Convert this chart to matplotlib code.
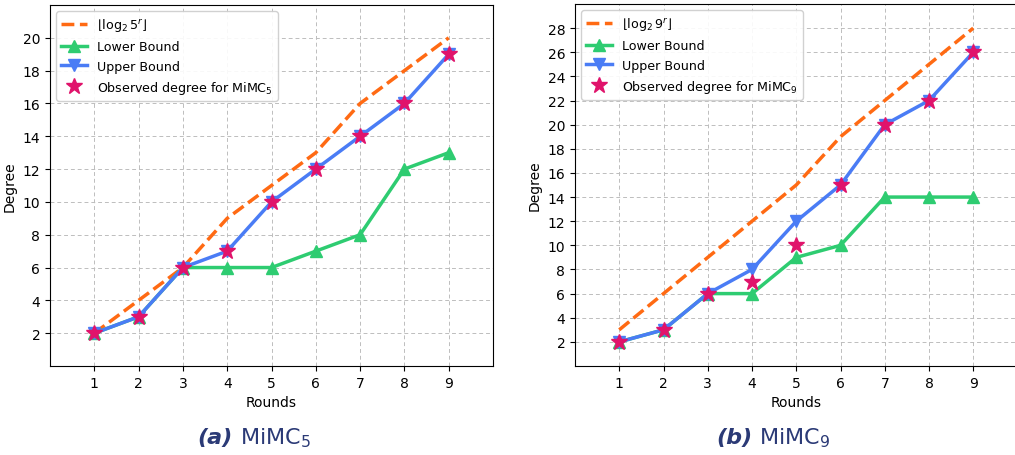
import matplotlib
matplotlib.use("Agg")
import matplotlib.pyplot as plt

rounds = [1, 2, 3, 4, 5, 6, 7, 8, 9]

# MiMC5
floor5 = [2, 4, 6, 9, 11, 13, 16, 18, 20]
lower5 = [2, 3, 6, 6, 6, 7, 8, 12, 13]
upper5 = [2, 3, 6, 7, 10, 12, 14, 16, 19]
obs5 = [2, 3, 6, 7, 10, 12, 14, 16, 19]
yticks5 = [2, 4, 6, 8, 10, 12, 14, 16, 18, 20]

# MiMC9
floor9 = [3, 6, 9, 12, 15, 19, 22, 25, 28]
lower9 = [2, 3, 6, 6, 9, 10, 14, 14, 14]
upper9 = [2, 3, 6, 8, 12, 15, 20, 22, 26]
obs9 = [2, 3, 6, 7, 10, 15, 20, 22, 26]
yticks9 = [2, 4, 6, 8, 10, 12, 14, 16, 18, 20, 22, 24, 26, 28]

C_OR = "#ff6a13"
C_GR = "#2ecc71"
C_BL = "#4a7cf5"
C_ST = "#e0136b"
C_CAP = "#2b3a76"

fig = plt.figure(figsize=(10.15, 4.56), dpi=100)
ax1 = fig.add_axes([50/1015, 89/456, 443/1015, 361/456])
ax2 = fig.add_axes([575/1015, 89/456, 442.5/1015, 362/456])


def draw(ax, fl, lo, up, ob, yt, ylim, flabel, olabel):
    ax.plot(rounds, fl, "--", color=C_OR, lw=2.5, label=flabel, zorder=3)
    ax.plot(rounds, lo, "-^", color=C_GR, lw=2.5, ms=8.5, label="Lower Bound", zorder=3)
    ax.plot(rounds, up, "-v", color=C_BL, lw=2.5, ms=8.5, label="Upper Bound", zorder=4)
    ax.plot(rounds, ob, "*", color=C_ST, ms=12, ls="none", label=olabel, zorder=5)
    ax.set_xlim(0, 10)
    ax.set_ylim(*ylim)
    ax.set_xticks(rounds)
    ax.set_yticks(yt)
    ax.grid(True, ls=(0, (4, 3)), color="#bdbdbd", lw=0.7)
    ax.set_xlabel("Rounds", fontsize=10)
    ax.set_ylabel("Degree", fontsize=10)
    ax.tick_params(labelsize=10)
    ax.legend(loc="upper left", fontsize=9.1, framealpha=0.9)


draw(ax1, floor5, lower5, upper5, obs5, yticks5, (0, 22),
     r"$\lfloor \log_2 5^r \rfloor$", r"Observed degree for MiMC$_5$")
draw(ax2, floor9, lower9, upper9, obs9, yticks9, (0, 30),
     r"$\lfloor \log_2 9^r \rfloor$", r"Observed degree for MiMC$_9$")

for xa, xm, lab, sub in [(233, 240, "(a)", "5"), (752, 759, "(b)", "9")]:
    fig.text(xa/1015, 0.04, lab, fontsize=16, fontweight="bold",
             fontstyle="italic", color=C_CAP, ha="right", va="center")
    fig.text(xm/1015, 0.04, r"MiMC$_{\mathregular{" + sub + "}}$", fontsize=16,
             color=C_CAP, ha="left", va="center")

fig.savefig("out.png", dpi=100)
